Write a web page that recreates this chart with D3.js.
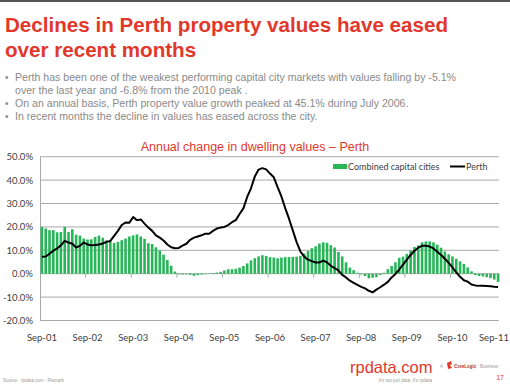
<!DOCTYPE html>
<html>
<head>
<meta charset="utf-8">
<script src="https://cdn.jsdelivr.net/npm/d3@7"></script>
<style>
  body { margin: 0; background: #fff; }
  svg { display: block; }
</style>
</head>
<body>
<svg id="chart" width="510" height="386"></svg>
<script>
// months Sep-01 .. Sep-11
var months = d3.timeMonths(new Date(2001, 8, 1), new Date(2011, 9, 1));

// annual change, combined capital cities (%)
var combined = [
  20.0, 19.3, 18.6, 18.6, 17.7, 17.8, 20.0, 17.8, 19.0, 16.7, 16.3, 15.0,
  14.6, 14.7, 15.7, 16.3, 15.4, 14.3, 13.9, 13.1, 13.6, 14.3, 15.0, 15.9,
  16.4, 16.8, 15.9, 14.9, 13.0, 12.7, 11.3, 9.9, 8.1, 5.9, 3.4, 0.9,
  -0.3, -0.4, -0.3, -0.5, -0.9, -0.6, -0.4, -0.2, 0.1, 0.3, 0.5, 0.8,
  1.4, 1.9, 1.9, 2.1, 2.6, 3.3, 4.4, 5.7, 6.6, 7.4, 7.9, 7.6,
  7.1, 6.9, 6.6, 6.9, 7.1, 7.1, 7.2, 7.3, 7.6, 8.6, 9.7, 10.9,
  11.7, 12.9, 13.4, 13.2, 12.2, 11.2, 9.3, 7.4, 4.9, 2.6, 1.5, 0.4,
  -0.3, -1.0, -2.0, -1.7, -1.5, -0.6, 0.4, 1.9, 3.3, 4.9, 6.8, 7.3,
  8.5, 10.0, 11.4, 12.1, 13.4, 13.8, 13.8, 13.4, 12.4, 11.1, 9.5, 8.3,
  7.4, 6.4, 5.3, 4.2, 2.7, 1.0, -0.6, -1.0, -1.2, -1.5, -1.9, -2.5,
  -3.5
];

// annual change, Perth (%)
var perth = [
  7.2, 7.3, 8.5, 9.8, 10.8, 12.1, 14.0, 13.3, 12.8, 11.2, 11.9, 13.3,
  12.5, 12.2, 12.3, 12.5, 12.9, 13.6, 14.0, 16.2, 18.3, 20.8, 21.9, 21.8,
  24.2, 22.9, 23.2, 21.4, 19.7, 18.3, 16.4, 15.4, 14.2, 12.5, 11.3, 10.9,
  11.0, 12.0, 12.8, 14.5, 15.4, 15.9, 16.4, 17.1, 17.1, 18.3, 19.3, 19.7,
  20.0, 20.8, 22.0, 22.9, 25.5, 27.9, 32.8, 36.5, 41.5, 44.5, 45.1, 44.6,
  42.8, 41.2, 37.0, 33.0, 28.0, 23.5, 18.5, 13.5, 9.5, 7.3, 6.0, 5.4,
  4.8, 4.8, 5.6, 4.8, 3.4, 2.4, 1.4, -0.5, -1.6, -3.0, -3.9, -4.8,
  -5.6, -6.3, -7.3, -8.0, -6.8, -5.8, -4.7, -3.5, -1.6, -0.1, 1.8, 3.9,
  6.0, 8.0, 9.8, 11.1, 11.9, 11.9, 11.6, 10.8, 9.4, 8.0, 6.4, 4.6,
  2.7, 0.6, -1.3, -2.8, -3.4, -4.6, -5.0, -5.2, -5.2, -5.3, -5.4, -5.6,
  -5.7
];

var yTicks = [-20, -10, 0, 10, 20, 30, 40, 50];

var bullets = [
  ["Perth has been one of the weakest performing capital city markets with values falling by -5.1%",
   "over the last year and -6.8% from the 2010 peak ."],
  ["On an annual basis, Perth property value growth peaked at 45.1% during July 2006."],
  ["In recent months the decline in values has eased across the city."]
];

var red = "#e2382c", green = "#27b657", grid = "#a9a9a9", axisFont = "Lato, 'Open Sans', sans-serif";

var svg = d3.select("#chart");
svg.append("rect").attr("x", 0).attr("y", 0).attr("width", 510).attr("height", 2).attr("fill", "#555");

// heading
var head = svg.append("text").attr("fill", red).style("font-family", "'Liberation Sans', Arial, sans-serif")
  .style("font-weight", "bold").style("font-size", "20.6px");
head.append("tspan").attr("x", 5).attr("y", 32).text("Declines in Perth property values have eased");
head.append("tspan").attr("x", 5).attr("y", 57).text("over recent months");

// bullets
var by = 81;
bullets.forEach(function(b){
  svg.append("text").attr("x", 5).attr("y", by).attr("fill", "#8a8a8a").style("font-size", "10px")
    .style("font-family", "'Liberation Sans', Arial, sans-serif").text("•");
  b.forEach(function(line){
    svg.append("text").attr("x", 15).attr("y", by).attr("fill", "#8a8a8a")
      .style("font-family", "'Liberation Sans', Arial, sans-serif").style("font-size", "10.6px").text(line);
    by += 13;
  });
});

// chart title
svg.append("text").attr("x", 255).attr("y", 151).attr("text-anchor", "middle").attr("fill", red)
  .style("font-family", "'Liberation Sans', Arial, sans-serif").style("font-size", "12.5px")
  .text("Annual change in dwelling values \u2013 Perth");

// scales
var x = d3.scaleBand().domain(months).range([40, 500]).paddingInner(0.32).paddingOuter(0.16);
var y = d3.scaleLinear().domain([-20, 50]).range([320.5, 156.7]);

// gridlines
svg.append("g").selectAll("line").data(yTicks).enter().append("line")
  .attr("x1", 40).attr("x2", 499).attr("y1", function(d){ return y(d); }).attr("y2", function(d){ return y(d); })
  .attr("stroke", grid).attr("stroke-width", 1);

// y axis
var yAxis = d3.axisLeft(y).tickValues(yTicks).tickSize(0).tickPadding(7)
  .tickFormat(function(d){ return d.toFixed(1) + "%"; });
var ya = svg.append("g").attr("transform", "translate(40,0)").call(yAxis);
ya.select(".domain").attr("stroke", grid);
ya.selectAll("text").attr("fill", "#404040").style("font-family", axisFont).style("font-size", "9.5px");

// bars
svg.append("g").selectAll("rect").data(combined).enter().append("rect")
  .attr("x", function(d, i){ return x(months[i]); })
  .attr("width", x.bandwidth())
  .attr("y", function(d){ return y(Math.max(0, d)); })
  .attr("height", function(d){ return Math.abs(y(d) - y(0)); })
  .attr("fill", green);

// x axis at zero with ticks every September
var sep = months.filter(function(m){ return m.getMonth() === 8; });
var step = x.step();
svg.append("g").selectAll("line").data(sep.slice(1, -1)).enter().append("line")
  .attr("x1", function(d){ return x(d) - step * 0.16; }).attr("x2", function(d){ return x(d) - step * 0.16; })
  .attr("y1", y(0)).attr("y2", y(0) + 4).attr("stroke", grid);
svg.append("g").selectAll("text").data(sep).enter().append("text")
  .attr("x", function(d, i){ return i === sep.length - 1 ? 509 : x(d) + x.bandwidth() / 2; }).attr("y", 341)
  .attr("text-anchor", function(d, i){ return i === sep.length - 1 ? "end" : "middle"; }).attr("fill", "#404040")
  .style("font-family", axisFont).style("font-size", "9.5px")
  .text(function(d){ return d3.timeFormat("%b-%y")(d); });

// Perth line
var line = d3.line()
  .x(function(d, i){ return x(months[i]) + x.bandwidth() / 2; })
  .y(function(d){ return y(d); });
svg.append("path").datum(perth).attr("d", line).attr("fill", "none")
  .attr("stroke", "#000").attr("stroke-width", 2).attr("stroke-linejoin", "round");

// legend
svg.append("rect").attr("x", 333).attr("y", 164).attr("width", 14).attr("height", 5).attr("fill", green);
svg.append("text").attr("x", 348).attr("y", 170).attr("fill", "#404040")
  .style("font-family", axisFont).style("font-size", "9px").text("Combined capital cities");
svg.append("line").attr("x1", 450).attr("x2", 465).attr("y1", 166.5).attr("y2", 166.5)
  .attr("stroke", "#000").attr("stroke-width", 2);
svg.append("text").attr("x", 466).attr("y", 170).attr("fill", "#404040")
  .style("font-family", axisFont).style("font-size", "9px").text("Perth");

// footer
svg.append("text").attr("x", 3).attr("y", 382).attr("fill", "#999").style("font-family", "'Liberation Sans', Arial, sans-serif")
  .style("font-size", "4.5px").text("Source : rpdata.com - Rismark");
svg.append("text").attr("x", 350).attr("y", 373).attr("fill", red).style("font-family", "'Liberation Sans', Arial, sans-serif")
  .style("font-size", "16.5px").text("rpdata.com");
svg.append("text").attr("x", 432).attr("y", 382).attr("text-anchor", "end").attr("fill", "#999")
  .style("font-family", "'Liberation Sans', Arial, sans-serif").style("font-size", "4.5px").text("It's not just data, it's rpdata");
svg.append("text").attr("x", 440).attr("y", 368).attr("fill", "#999").style("font-family", "'Liberation Sans', Arial, sans-serif")
  .style("font-size", "4.5px").text("A");
svg.append("path").attr("d", "M447,363 l4,-2 l1,3 l-2,1 l2,3 l-4,1 z").attr("fill", red);
svg.append("text").attr("x", 454).attr("y", 368).attr("fill", "#b03030").style("font-family", "'Liberation Sans', Arial, sans-serif")
  .style("font-size", "4.5px").style("font-weight", "bold").text("CoreLogic");
svg.append("text").attr("x", 480).attr("y", 368).attr("fill", "#999").style("font-family", "'Liberation Sans', Arial, sans-serif")
  .style("font-size", "4.5px").text("Business");
svg.append("text").attr("x", 504).attr("y", 380).attr("text-anchor", "end").attr("fill", red)
  .style("font-family", "'Liberation Sans', Arial, sans-serif").style("font-size", "7px").text("17");
</script>
</body>
</html>
